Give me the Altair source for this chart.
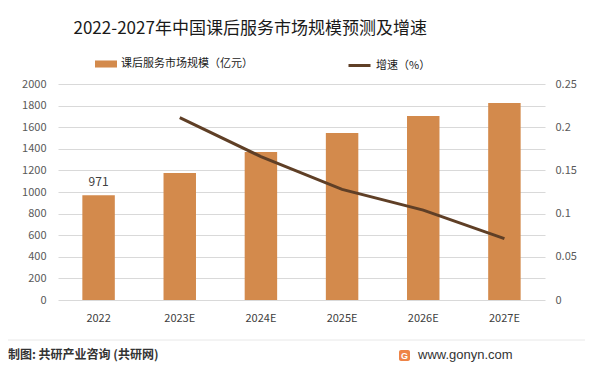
import altair as alt
import pandas as pd

years = ["2022", "2023E", "2024E", "2025E", "2026E", "2027E"]
market = [971, 1176, 1370, 1546, 1704, 1824]
growth = [None, 0.211, 0.166, 0.128, 0.104, 0.071]
left_ticks = [0, 200, 400, 600, 800, 1000, 1200, 1400, 1600, 1800, 2000]
right_ticks = [0, 0.05, 0.1, 0.15, 0.2, 0.25]
bar_name = "课后服务市场规模（亿元）"
line_name = "增速（%）"
title_text = "2022-2027年中国课后服务市场规模预测及增速"
source_text = "制图: 共研产业咨询 (共研网)"
site_text = "www.gonyn.com"

df = pd.DataFrame({"year": years, "market": market, "growth": growth})

FONT = "Noto Sans CJK SC"
BAR = "#D38A4C"
LINE = "#5F3F26"
LABEL = "#595959"

x = alt.X("year:N", sort=years, title=None,
          scale=alt.Scale(paddingInner=0.6, paddingOuter=0.3),
          axis=alt.Axis(labelAngle=0, domain=False, ticks=False, labelPadding=12,
                        labelFontSize=11, labelColor="#404040", labelFont=FONT))

left_axis = alt.Axis(values=left_ticks, grid=True, gridColor="#D9D9D9", domain=False,
                     ticks=False, tickSize=0, labelPadding=12, labelFontSize=11,
                     format="d", labelOverlap=False, tickCount=11,
                     labelColor=LABEL, labelFont=FONT)
left_y = alt.Y("market:Q", title=None, scale=alt.Scale(domain=[0, 2000], nice=False),
               axis=left_axis)

bars = alt.Chart(df).transform_calculate(s=f"'{bar_name}'").mark_bar().encode(
    x=x,
    y=left_y,
    color=alt.Color("s:N", scale=alt.Scale(range=[BAR]),
                    legend=alt.Legend(orient="none", legendX=37, legendY=-31, title=None,
                                      symbolType="M-1,-0.32H1V0.32H-1Z", symbolSize=484,
                                      symbolStrokeWidth=0, labelFont=FONT, labelFontSize=11,
                                      labelColor="#1a1a1a", padding=0)),
)

label = alt.Chart(df).transform_filter(alt.datum.year == "2022").mark_text(
    dy=-13, font=FONT, fontSize=12, color="#404040", baseline="middle"
).encode(x=x, y=left_y, text=alt.Text("market:Q"))

left = alt.layer(bars, label)

line = alt.Chart(df).transform_calculate(s2=f"'{line_name}'").mark_line(strokeWidth=3).encode(
    x=x,
    y=alt.Y("growth:Q", title=None, scale=alt.Scale(domain=[0, 0.25], nice=False),
            axis=alt.Axis(orient="right", values=right_ticks, grid=False, domain=False,
                          ticks=False, tickSize=0, labelPadding=10, format="~g",
                          labelOverlap=False,
                          labelFontSize=11, labelColor=LABEL, labelFont=FONT)),
    stroke=alt.Stroke("s2:N", scale=alt.Scale(range=[LINE]),
                      legend=alt.Legend(orient="none", legendX=289, legendY=-31, title=None,
                                        symbolType="stroke", symbolSize=484,
                                        symbolStrokeWidth=3, labelFont=FONT, labelFontSize=11,
                                        labelColor="#1a1a1a", padding=0)),
)

src = alt.Chart(pd.DataFrame({"t": [source_text]})).mark_text(
    align="left", baseline="middle", font=FONT, fontSize=12, fontWeight="bold", color="#333333"
).encode(text="t:N", x=alt.value(-50), y=alt.value(271))

site = alt.Chart(pd.DataFrame({"t": [site_text]})).mark_text(
    align="left", baseline="middle", font="Liberation Sans", fontSize=13, color="#333333"
).encode(text="t:N", x=alt.value(360), y=alt.value(271))

logo = alt.Chart(pd.DataFrame({"t": ["G"]})).mark_rect(color="#EE8447", cornerRadius=2).encode(
    x=alt.value(341), x2=alt.value(352), y=alt.value(266), y2=alt.value(277))

logo_t = alt.Chart(pd.DataFrame({"t": ["G"]})).mark_text(
    align="center", baseline="middle", font="Liberation Sans", fontSize=9, fontWeight="bold", color="white"
).encode(text="t:N", x=alt.value(346.5), y=alt.value(271.5))

sep = alt.Chart(pd.DataFrame({"t": [0]})).mark_rule(color="#E8E8E8", strokeWidth=1).encode(
    x=alt.value(-50), x2=alt.value(527), y=alt.value(256))

chart = alt.layer(left, line, sep, src, logo, logo_t, site).resolve_scale(
    y="independent"
).properties(
    width=487, height=216,
    title=alt.TitleParams(title_text, anchor="start", dx=66, fontSize=17, font=FONT,
                          color="#1a1a1a", fontWeight="normal", offset=15),
    autosize=alt.AutoSizeParams(type="none"),
    padding={"left": 50, "top": 76, "right": 40, "bottom": 63},
).configure_view(stroke=None)

chart.save("out.html", embed_options={"renderer": "svg", "actions": False})
